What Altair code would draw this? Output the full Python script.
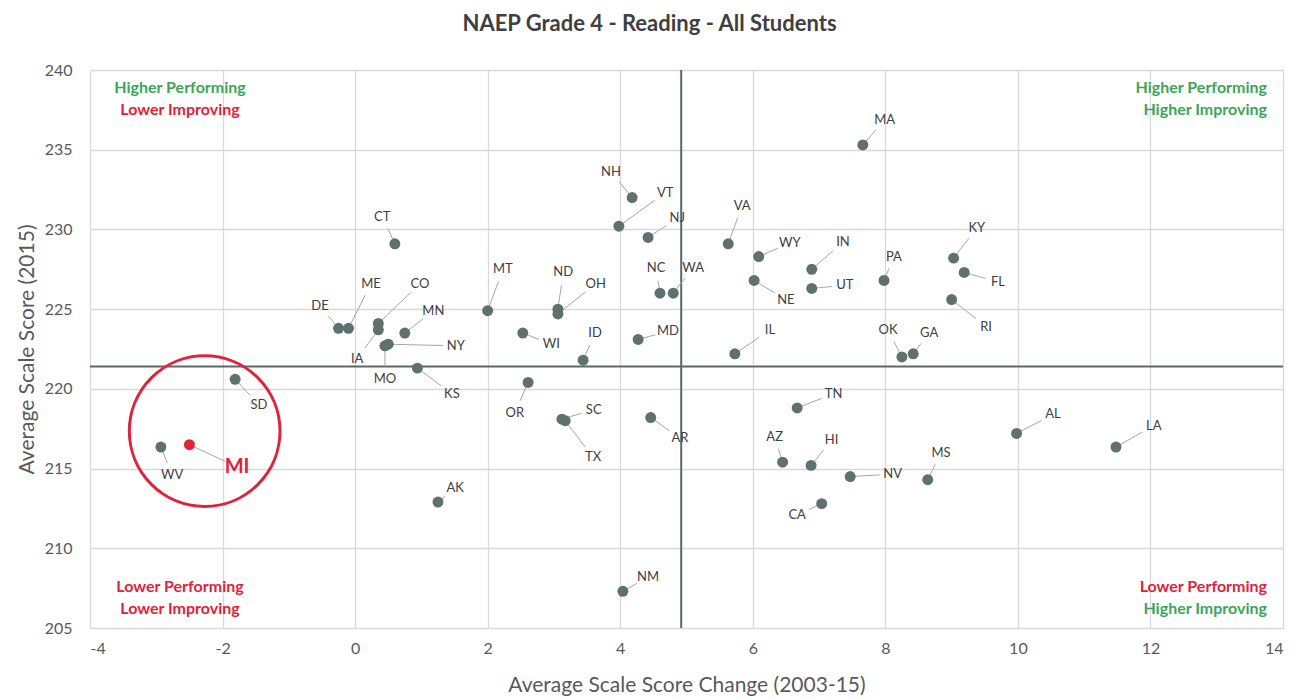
import altair as alt
import pandas as pd
import math

# ---- data ----
states = ["MA","NH","VT","NJ","NC","WA","MT","ND","OH","WI","ID","MD","OR",
          "DE","ME","CO","MN","NY","IA","MO","KS","CT","SD","WV","MI","AK",
          "SC","TX","AR","TN","AZ","HI","NV","MS","CA","NM","AL","LA",
          "VA","WY","NE","IN","UT","PA","KY","FL","RI","OK","GA","IL"]
score_change = [7.66,4.18,3.98,4.42,4.60,4.80,2.00,3.06,3.06,2.53,3.44,4.27,2.61,
                -0.25,-0.10,0.35,0.75,0.50,0.35,0.45,0.94,0.60,-1.81,-2.93,-2.50,1.25,
                3.12,3.17,4.46,6.67,6.45,6.88,7.47,8.64,7.04,4.04,9.98,11.48,
                5.63,6.09,6.02,6.89,6.89,7.98,9.03,9.19,9.00,8.25,8.42,5.73]
score_2015 = [235.3,232.0,230.2,229.5,226.0,226.0,224.9,225.0,224.7,223.5,221.8,223.1,220.4,
              223.8,223.8,224.1,223.5,222.8,223.7,222.7,221.3,229.1,220.6,216.35,216.5,212.9,
              218.1,218.0,218.2,218.8,215.4,215.2,214.5,214.3,212.8,207.3,217.2,216.35,
              229.1,228.3,226.8,227.5,226.3,226.8,228.2,227.3,225.6,222.0,222.2,222.2]
label_change = [7.99,3.86,4.68,4.86,4.54,5.10,2.23,3.14,3.63,2.96,3.62,4.72,2.41,
                -0.53,0.24,0.98,1.18,1.52,0.03,0.45,1.46,0.41,-1.45,-2.76,-1.78,1.51,
                3.60,3.59,4.90,7.22,6.33,7.19,8.11,8.84,6.67,4.42,10.53,12.05,
                5.84,6.56,6.50,7.36,7.39,8.13,9.38,9.70,9.52,8.04,8.66,6.26]
label_score = [236.86,233.6,232.3,230.7,227.6,227.6,227.5,227.3,226.6,222.8,223.5,223.6,218.5,
               225.2,226.6,226.6,224.9,222.7,221.9,220.6,219.7,230.8,219.0,214.6,215.1,213.8,
               218.7,215.7,216.9,219.7,217.0,216.8,214.65,216.0,212.1,208.2,218.4,217.7,
               231.5,229.15,225.6,229.2,226.5,228.3,230.1,226.7,223.9,223.7,223.5,223.7]
highlight = "MI"
avg_change = 4.92
avg_score = 221.4
x_ticks = [-4, -2, 0, 2, 4, 6, 8, 10, 12, 14]
y_ticks = [205, 210, 215, 220, 225, 230, 235, 240]
quadrants = [
    ("Higher Performing", "green", "left", "top", 0),
    ("Lower Improving", "red", "left", "top", 1),
    ("Higher Performing", "green", "right", "top", 0),
    ("Higher Improving", "green", "right", "top", 1),
    ("Lower Performing", "red", "left", "bottom", 0),
    ("Lower Improving", "red", "left", "bottom", 1),
    ("Lower Performing", "red", "right", "bottom", 0),
    ("Higher Improving", "green", "right", "bottom", 1),
]
circle_center = (-2.27, 217.35)

# ---- layout ----
W, H = 1193, 558
XMIN, XMAX, YMIN, YMAX = -4, 14, 205, 240
pxx = W / (XMAX - XMIN)
pxy = H / (YMAX - YMIN)
GREEN = "#3DA55A"
RED = "#E0223A"
DOT = "#5E716E"
FONT = "Lato"

df = pd.DataFrame({"state": states, "x": score_change, "y": score_2015,
                   "lx": label_change, "ly": label_score})
df["hl"] = df["state"] == highlight

# leader line end points: stop short of the label
ex, ey = [], []
for x, y, lx, ly in zip(df.x, df.y, df.lx, df.ly):
    dxp = (lx - x) * pxx
    dyp = (ly - y) * pxy
    d = math.hypot(dxp, dyp)
    f = max(d - 13, 0) / d if d > 0 else 0
    ex.append(x + (lx - x) * f)
    ey.append(y + (ly - y) * f)
df["ex"] = ex
df["ey"] = ey

xs = alt.Scale(domain=[XMIN, XMAX], nice=False, zero=False)
ys = alt.Scale(domain=[YMIN, YMAX], nice=False, zero=False)

base = alt.Chart(df)

grid = base.mark_point(opacity=0).encode(
    x=alt.X("x:Q", scale=xs,
            axis=alt.Axis(values=x_ticks, labelExpr="toString(datum.value)",
                          title="Average Scale Score Change (2003-15)",
                          grid=True, gridColor="#D9D9D9", gridWidth=1.3,
                          domainColor="#D9D9D9", ticks=False, labelPadding=12,
                          labelFontSize=16, labelColor="#595959", labelFont=FONT,
                          titleFont=FONT, titleFontSize=21, titleFontWeight="normal",
                          titleColor="#595959", titlePadding=18)),
    y=alt.Y("y:Q", scale=ys,
            axis=alt.Axis(values=y_ticks, format="d", title="Average Scale Score (2015)",
                          grid=True, gridColor="#D9D9D9", gridWidth=1.3,
                          domainColor="#D9D9D9", ticks=False, labelPadding=18,
                          labelFontSize=16, labelColor="#595959", labelFont=FONT,
                          titleFont=FONT, titleFontSize=21, titleFontWeight="normal",
                          titleColor="#595959", titlePadding=7)),
)

avg_df = pd.DataFrame({"ax": [avg_change], "ay": [avg_score]})
vline = alt.Chart(avg_df).mark_rule(color="#5A6967", strokeWidth=2).encode(x=alt.X("ax:Q", scale=xs))
hline = alt.Chart(avg_df).mark_rule(color="#5A6967", strokeWidth=2).encode(y=alt.Y("ay:Q", scale=ys))

leaders = base.mark_rule(color="#A6A6A6", strokeWidth=1).encode(
    x=alt.X("x:Q", scale=xs), y=alt.Y("y:Q", scale=ys), x2="ex:Q", y2="ey:Q")

dots = base.mark_circle(size=120, opacity=1).encode(
    x=alt.X("x:Q", scale=xs), y=alt.Y("y:Q", scale=ys),
    color=alt.condition("datum.hl", alt.value(RED), alt.value(DOT)))

labels = base.transform_filter("!datum.hl").mark_text(
    font=FONT, fontSize=13, color="#404040").encode(
    x=alt.X("lx:Q", scale=xs), y=alt.Y("ly:Q", scale=ys), text="state:N")

hl_label = base.transform_filter("datum.hl").mark_text(
    font=FONT, fontSize=20, fontWeight="bold", color=RED).encode(
    x=alt.X("lx:Q", scale=xs), y=alt.Y("ly:Q", scale=ys), text="state:N")

circ_df = pd.DataFrame({"cx": [circle_center[0]], "cy": [circle_center[1]]})
ring = alt.Chart(circ_df).mark_point(shape="circle", size=math.pi * 85 ** 2, filled=False,
                                     stroke=RED, strokeWidth=3, opacity=1).encode(
    x=alt.X("cx:Q", scale=xs), y=alt.Y("cy:Q", scale=ys))

qrows = []
for text, col, side, vert, line in quadrants:
    px = 90 if side == "left" else W - 16
    py = (18 if vert == "top" else H - 41) + line * 22
    qrows.append({"t": text, "c": GREEN if col == "green" else RED, "px": px, "py": py,
                  "al": "center" if side == "left" else "right"})
qdf = pd.DataFrame(qrows)
quad_l = alt.Chart(qdf).transform_filter("datum.al == 'center'").mark_text(
    font=FONT, fontSize=16, fontWeight="bold", align="center").encode(
    x=alt.X("px:Q", scale=None), y=alt.Y("py:Q", scale=None), text="t:N",
    color=alt.Color("c:N", scale=None))
quad_r = alt.Chart(qdf).transform_filter("datum.al == 'right'").mark_text(
    font=FONT, fontSize=16, fontWeight="bold", align="right").encode(
    x=alt.X("px:Q", scale=None), y=alt.Y("py:Q", scale=None), text="t:N",
    color=alt.Color("c:N", scale=None))

chart = alt.layer(grid, vline, hline, leaders, ring, dots, labels, hl_label, quad_l, quad_r).properties(
    width=W, height=H,
    title=alt.Title("NAEP Grade 4 - Reading - All Students", font=FONT, fontSize=22,
                    fontWeight="bold", color="#404040", anchor="middle", dx=-37, offset=26),
    autosize=alt.AutoSizeParams(type="none"),
    padding={"left": 82, "top": 62, "right": 6, "bottom": 69},
).configure_view(stroke=None).configure(background="white")

chart.save("out.html", embed_options={"renderer": "svg", "actions": False})
